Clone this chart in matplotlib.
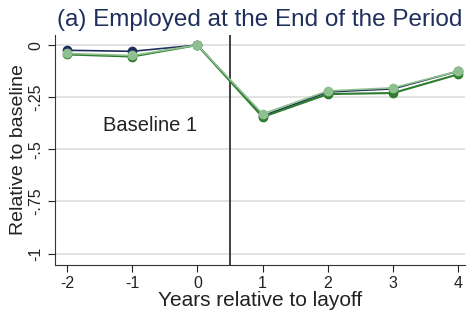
import numpy as np
import matplotlib.pyplot as plt

plt.rcParams['font.family'] = ['Liberation Sans', 'DejaVu Sans']
plt.rcParams['axes.unicode_minus'] = False

years = [-2, -1, 0, 1, 2, 3, 4]
navy = [-0.025, -0.03, 0.0, -0.34, -0.225, -0.21, -0.125]
dark_green = [-0.045, -0.055, 0.0, -0.345, -0.235, -0.23, -0.14]
light_green = [-0.04, -0.05, 0.0, -0.33, -0.22, -0.205, -0.125]
yticks = [0, -0.25, -0.5, -0.75, -1]
ylabels = ['0', '-.25', '-.5', '-.75', '-1']

fig = plt.figure(figsize=(4.71, 3.15), dpi=100)
ax = fig.add_axes([0.117, 0.16, 0.87, 0.73])

ax.plot(years, navy, color='#1f2f5c', marker='o', markersize=6, lw=1.2, zorder=3)
ax.plot(years, dark_green, color='#2e7d2e', marker='o', markersize=6, lw=1.5, zorder=4)
ax.plot(years, light_green, color='#8fc08f', marker='o', markersize=6, lw=1.2, zorder=5)

ax.axvline(0.5, color='#333333', lw=1.3)
ax.text(-0.73, -0.385, 'Baseline 1', fontsize=14.5, ha='center', va='center', color='#222222')

ax.set_xlim(-2.18, 4.1)
ax.set_ylim(-1.053, 0.05)
ax.set_xticks(years)
ax.set_yticks(yticks)
ax.set_yticklabels(ylabels, rotation=90, va='center')
ax.tick_params(labelsize=11.5, colors='#222222', length=5)
ax.grid(axis='y', color='#dddddd', lw=1.2)
ax.set_axisbelow(True)
for s in ['top', 'right']:
    ax.spines[s].set_visible(False)
for s in ['left', 'bottom']:
    ax.spines[s].set_color('#333333')

ax.set_xlabel('Years relative to layoff', fontsize=15, labelpad=0, color='#222222')
ax.set_ylabel('Relative to baseline', fontsize=14, labelpad=1, color='#222222')
ax.set_title('(a) Employed at the End of the Period', fontsize=17.5, color='#1f2f5c', pad=6)

fig.savefig('out.png', dpi=100)
